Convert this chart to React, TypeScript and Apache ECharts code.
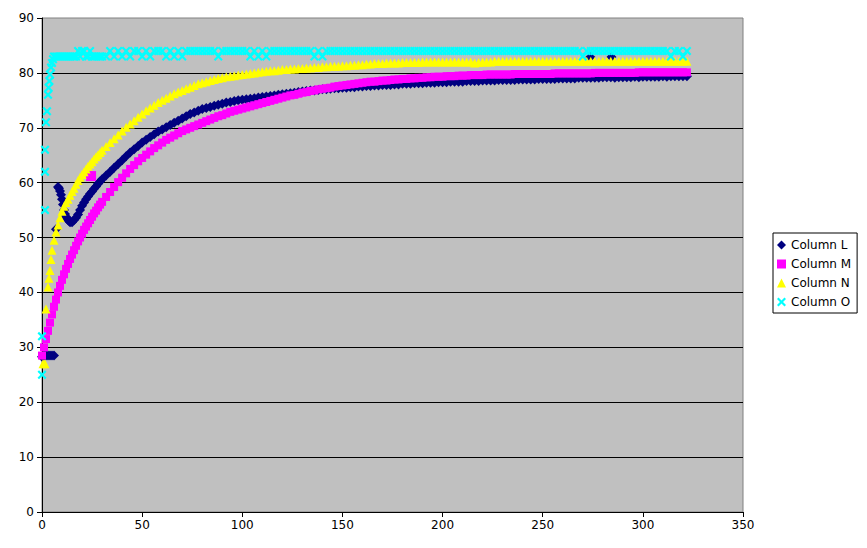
import React, { useEffect, useRef } from "react";
import * as echarts from "echarts";

// ---- data ----
const xEarly = [0, 1, 2, 3, 4, 5, 6, 7, 8, 9, 10, 11, 12, 13, 14, 15, 16, 17, 18, 19, 20, 21, 22, 23, 24, 25, 26, 27, 28, 29, 30];
const xLate = [
  32, 34, 36, 38, 40, 42, 44, 46, 48, 50,
  52, 54, 56, 58, 60, 62, 64, 66, 68, 70,
  72, 74, 76, 78, 80, 82, 84, 86, 88, 90,
  92, 94, 96, 98, 100, 102, 104, 106, 108, 110,
  112, 114, 116, 118, 120, 122, 124, 126, 128, 130,
  132, 134, 136, 138, 140, 142, 144, 146, 148, 150,
  152, 154, 156, 158, 160, 162, 164, 166, 168, 170,
  172, 174, 176, 178, 180, 182, 184, 186, 188, 190,
  192, 194, 196, 198, 200, 202, 204, 206, 208, 210,
  212, 214, 216, 218, 220, 222, 224, 226, 228, 230,
  232, 234, 236, 238, 240, 242, 244, 246, 248, 250,
  252, 254, 256, 258, 260, 262, 264, 266, 268, 270,
  272, 274, 276, 278, 280, 282, 284, 286, 288, 290,
  292, 294, 296, 298, 300, 302, 304, 306, 308, 310,
  312, 314, 316, 318, 320, 322,
];

const colLEarlyX = [0, 1, 2, 3, 4, 5, 6, 7, 8, 8.5, 9, 9.5, 10, 10.5, 11, 11.5, 12, 12.5, 13, 13.5, 14, 15, 16, 17, 18, 19, 20, 21, 22, 23, 24, 25, 26, 27, 28, 29, 30];
const colLEarlyY = [28.3, 28.5, 28.5, 28.5, 28.5, 28.5, 28.5, 51.5, 59.2, 59.0, 58.5, 57.8, 57.0, 56.0, 55.0, 54.3, 53.8, 53.5, 53.2, 53.0, 52.8, 52.8, 53.2, 53.6, 54.2, 55.0, 55.8, 56.4, 57.0, 57.5, 58.0, 58.4, 58.9, 59.3, 59.8, 60.2, 60.6];
const colLLate = [
  61.3, 62.0, 62.7, 63.4, 64.1, 64.8, 65.5, 66.1, 66.7, 67.3,
  67.8, 68.3, 68.8, 69.3, 69.7, 70.1, 70.5, 70.9, 71.3, 71.7,
  72.1, 72.5, 72.8, 73.1, 73.4, 73.6, 73.8, 74.0, 74.2, 74.4,
  74.6, 74.7, 74.9, 75.0, 75.1, 75.2, 75.3, 75.4, 75.5, 75.6,
  75.7, 75.8, 75.9, 76.0, 76.1, 76.2, 76.3, 76.4, 76.5, 76.6,
  76.7, 76.8, 76.8, 76.9, 77.0, 77.0, 77.1, 77.2, 77.2, 77.3,
  77.3, 77.4, 77.4, 77.5, 77.5, 77.6, 77.6, 77.7, 77.7, 77.8,
  77.8, 77.8, 77.9, 77.9, 78.0, 78.0, 78.0, 78.1, 78.1, 78.1,
  78.2, 78.2, 78.2, 78.3, 78.3, 78.3, 78.4, 78.4, 78.4, 78.4,
  78.5, 78.5, 78.5, 78.5, 78.6, 78.6, 78.6, 78.6, 78.7, 78.7,
  78.7, 78.7, 78.7, 78.8, 78.8, 78.8, 78.8, 78.8, 78.9, 78.9,
  78.9, 78.9, 78.9, 79.0, 79.0, 79.0, 79.0, 79.0, 79.1, 79.1,
  79.1, 79.1, 79.1, 79.1, 79.2, 79.2, 79.2, 79.1, 79.2, 79.2,
  79.2, 79.2, 79.3, 79.2, 79.3, 79.3, 79.3, 79.3, 79.3, 79.4,
  79.3, 79.4, 79.4, 79.4, 79.4, 79.4,
];
const colLOutlierX = [273.8, 284.3];
const colLOutlierY = [82.9, 82.9];

const colMEarly = [28.5, 30.0, 31.5, 33.0, 34.5, 36.0, 37.4, 38.7, 40.0, 41.2, 42.3, 43.3, 44.3, 45.2, 46.1, 46.9, 47.7, 48.5, 49.3, 50.0, 50.7, 51.4, 52.0, 52.6, 53.2, 53.8, 54.4, 54.9, 55.5, 56.0, 56.5];
const colMLate = [
  57.4, 58.3, 59.2, 60.1, 60.9, 61.7, 62.5, 63.2, 63.9, 64.5,
  65.1, 65.7, 66.3, 66.8, 67.3, 67.8, 68.2, 68.6, 69.0, 69.4,
  69.7, 70.0, 70.3, 70.6, 70.9, 71.2, 71.5, 71.8, 72.1, 72.3,
  72.6, 72.9, 73.1, 73.3, 73.5, 73.7, 73.9, 74.1, 74.3, 74.5,
  74.7, 74.9, 75.1, 75.3, 75.5, 75.7, 75.9, 76.0, 76.2, 76.4,
  76.5, 76.7, 76.8, 77.0, 77.1, 77.2, 77.3, 77.5, 77.6, 77.7,
  77.8, 77.9, 78.0, 78.1, 78.2, 78.3, 78.4, 78.4, 78.5, 78.6,
  78.6, 78.7, 78.8, 78.8, 78.9, 78.9, 79.0, 79.0, 79.1, 79.1,
  79.2, 79.2, 79.3, 79.3, 79.3, 79.4, 79.4, 79.4, 79.5, 79.5,
  79.5, 79.6, 79.6, 79.6, 79.6, 79.7, 79.7, 79.7, 79.7, 79.7,
  79.7, 79.7, 79.8, 79.8, 79.8, 79.8, 79.8, 79.8, 79.8, 79.8,
  79.8, 79.8, 79.9, 79.9, 79.9, 79.9, 79.9, 79.9, 79.9, 79.9,
  79.9, 79.9, 80.0, 80.0, 80.0, 80.0, 80.0, 80.0, 80.0, 80.0,
  80.0, 80.0, 80.0, 80.1, 80.1, 80.1, 80.1, 80.1, 80.1, 80.1,
  80.1, 80.1, 80.1, 80.1, 80.1, 80.1,
];
const colMOutlier = [24.5, 61.2];

const colNEarlyX = [0.5, 1.5, 2, 3, 3.5, 4, 4.5, 5, 6, 7, 8, 9, 10, 11, 12, 13, 14, 15, 16, 17, 18, 19, 20, 21, 22, 23, 24, 25, 26, 27, 28, 29, 30];
const colNEarlyY = [27, 27, 37, 41, 42.6, 44, 46, 47.7, 49.5, 51, 52.3, 53.6, 54.8, 55.7, 56.4, 57, 57.7, 58.4, 59, 59.7, 60.4, 61, 61.5, 62, 62.5, 63, 63.4, 63.8, 64.3, 64.7, 65.1, 65.5, 65.9];
const colNLate = [
  66.6, 67.3, 68.0, 68.7, 69.4, 70.1, 70.7, 71.3, 71.9, 72.5,
  73.1, 73.6, 74.1, 74.6, 75.0, 75.4, 75.8, 76.2, 76.5, 76.8,
  77.1, 77.4, 77.7, 78.0, 78.2, 78.4, 78.6, 78.8, 79.0, 79.1,
  79.3, 79.4, 79.5, 79.6, 79.7, 79.8, 79.9, 80.0, 80.1, 80.2,
  80.3, 80.4, 80.4, 80.5, 80.6, 80.6, 80.7, 80.7, 80.8, 80.8,
  80.9, 80.9, 81.0, 81.0, 81.1, 81.1, 81.2, 81.2, 81.2, 81.3,
  81.3, 81.4, 81.4, 81.5, 81.5, 81.6, 81.6, 81.7, 81.7, 81.7,
  81.8, 81.8, 81.8, 81.8, 81.9, 81.9, 81.9, 81.9, 81.9, 82.0,
  82.0, 82.0, 82.0, 82.0, 82.0, 82.0, 82.0, 82.0, 82.0, 82.0,
  82.0, 82.0, 81.8, 81.9, 82.0, 82.0, 82.0, 82.1, 82.1, 82.1,
  82.1, 82.1, 82.1, 82.1, 82.1, 82.1, 82.1, 82.1, 82.1, 82.1,
  82.1, 82.1, 82.1, 82.1, 82.1, 82.1, 82.1, 82.1, 82.1, 82.1,
  82.1, 82.1, 82.1, 82.1, 82.1, 82.1, 82.1, 82.1, 82.1, 82.1,
  82.1, 82.1, 82.1, 82.1, 82.1, 82.1, 82.1, 82.1, 82.1, 82.1,
  82.1, 82.1, 82.1, 82.1, 82.1, 82.1,
];

const colOEarlyX = [0, 0, 1.5, 1.5, 1.5, 2, 2.5, 3, 3.3, 3.7, 4, 4.5, 5, 5.5, 6, 7, 8, 9, 10, 11, 12, 13, 14, 15, 16, 17, 18, 19, 20, 21, 22, 23, 24, 25, 26, 27, 28, 29, 30];
const colOEarlyY = [25, 32, 55, 62, 66, 71, 73, 76, 77.3, 78.5, 79.7, 81, 81.8, 82.5, 83, 83, 83, 83, 83, 83, 83, 83, 83, 83, 83, 83, 84, 83, 84, 84, 83, 83, 84, 83, 83, 83, 83, 83, 83];
const colOLate = [
  83, 84, 83, 84, 83, 84, 83, 84, 84, 83,
  84, 83, 84, 84, 84, 83, 84, 83, 84, 83,
  84, 84, 84, 84, 84, 84, 84, 84, 83, 84,
  84, 84, 84, 84, 84, 84, 83, 84, 83, 84,
  83, 84, 84, 84, 84, 84, 84, 84, 84, 84,
  84, 84, 83, 84, 83, 84, 84, 84, 84, 84,
  84, 84, 84, 84, 84, 84, 84, 84, 84, 84,
  84, 84, 84, 84, 84, 84, 84, 84, 84, 84,
  84, 84, 84, 84, 84, 84, 84, 84, 84, 84,
  84, 84, 84, 84, 84, 84, 84, 84, 84, 84,
  84, 84, 84, 84, 84, 84, 84, 84, 84, 84,
  84, 84, 84, 84, 84, 84, 84, 84, 84, 83,
  84, 84, 84, 84, 84, 84, 84, 84, 84, 84,
  84, 84, 84, 84, 84, 84, 84, 84, 84, 84,
  84, 83, 84, 84, 83, 84,
];

const seriesNames = ["Column L", "Column M", "Column N", "Column O"];
const xTicks = { min: 0, max: 350, interval: 50 };
const yTicks = { min: 0, max: 90, interval: 10 };

const zip = (xs: number[], ys: number[]) => xs.map((x, i) => [x, ys[i]]);

const CROSS = "path://M0,1.7L1.7,0L5,3.3L8.3,0L10,1.7L6.7,5L10,8.3L8.3,10L5,6.7L1.7,10L0,8.3L3.3,5Z";
const FONT = "DejaVu Sans";

export default function App() {
  const ref = useRef<HTMLDivElement>(null);
  useEffect(() => {
    if (!ref.current) return;
    const chart = echarts.init(ref.current, null, { renderer: "svg" });
    const dataL = [...zip(colLEarlyX, colLEarlyY), ...zip(xLate, colLLate), ...zip(colLOutlierX, colLOutlierY)];
    const dataM: any[] = [...zip(xEarly, colMEarly), ...zip(xLate, colMLate), { value: colMOutlier, symbolSize: 10 }];
    const dataN = [...zip(colNEarlyX, colNEarlyY), ...zip(xLate, colNLate)];
    const dataO = [...zip(colOEarlyX, colOEarlyY), ...zip(xLate, colOLate)];
    chart.setOption({
      animation: false,
      backgroundColor: "#ffffff",
      textStyle: { fontFamily: FONT },
      grid: {
        left: 42,
        top: 18,
        right: 124,
        bottom: 36,
        show: true,
        backgroundColor: "#C0C0C0",
        borderColor: "#808080",
        borderWidth: 1,
      },
      legend: {
        orient: "vertical",
        left: 773,
        top: 233,
        padding: [6, 6, 5, 4],
        itemWidth: 9,
        itemHeight: 9,
        itemGap: 7,
        borderColor: "#000000",
        borderWidth: 1,
        backgroundColor: "#ffffff",
        textStyle: { fontFamily: FONT, fontSize: 12, color: "#000000" },
        data: seriesNames,
      },
      xAxis: {
        type: "value",
        min: xTicks.min,
        max: xTicks.max,
        interval: xTicks.interval,
        axisLine: { show: true, onZero: false, lineStyle: { color: "#000000", width: 1 } },
        axisTick: { show: true, length: 5, inside: false, lineStyle: { color: "#000000" } },
        axisLabel: { color: "#000000", fontSize: 12, fontFamily: FONT, margin: 7 },
        splitLine: { show: false },
      },
      yAxis: {
        type: "value",
        min: yTicks.min,
        max: yTicks.max,
        interval: yTicks.interval,
        axisLine: { show: true, lineStyle: { color: "#000000", width: 1 } },
        axisTick: { show: true, length: 5, inside: false, lineStyle: { color: "#000000" } },
        axisLabel: { color: "#000000", fontSize: 12, fontFamily: FONT, margin: 8 },
        splitLine: { show: true, showMaxLine: false, lineStyle: { color: "#000000", width: 1 } },
      },
      series: [
        { name: "Column L", type: "scatter", symbol: "diamond", symbolSize: 10, itemStyle: { color: "#000080", opacity: 1 }, data: dataL },
        { name: "Column M", type: "scatter", symbol: "rect", symbolSize: 8, itemStyle: { color: "#FF00FF", opacity: 1 }, data: dataM },
        { name: "Column N", type: "scatter", symbol: "triangle", symbolSize: 9, itemStyle: { color: "#FFFF00", opacity: 1 }, data: dataN },
        { name: "Column O", type: "scatter", symbol: CROSS, symbolSize: 9, itemStyle: { color: "#00FFFF", opacity: 1 }, data: dataO },
      ],
    });
    return () => chart.dispose();
  }, []);
  return <div ref={ref} style={{ position: "absolute", left: 0, top: 0, width: 867, height: 548 }} />;
}
